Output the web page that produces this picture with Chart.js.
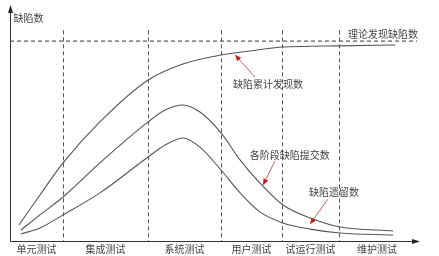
<!DOCTYPE html>
<html>
<head>
<meta charset="utf-8">
<script src="https://cdn.jsdelivr.net/npm/chart.js@4"></script>
<style>
html,body{margin:0;padding:0;background:#fff;}
canvas{display:block;}
</style>
</head>
<body>
<canvas id="c" width="439" height="256"></canvas>
<script>
// ---- data (x: time axis 0-100, y: defect count 0-100) ----
const stageLabels = ['单元测试', '集成测试', '系统测试', '用户测试', '试运行测试', '维护测试'];
const stageBounds = [0, 13.1, 34.1, 52.1, 67.2, 81.2, 100];

const cumX = [2.2, 7.4, 13.1, 22.2, 34.1, 42.7, 52.1, 59.3, 67.4, 81.5, 95.1];
const cumY = [7.0, 20.1, 34.1, 52.0, 70.3, 77.3, 81.2, 83.0, 84.7, 85.2, 85.6];

const subX = [2.7, 7.4, 13.1, 22.2, 34.1, 38.3, 42.7, 46.9, 52.1, 56.8, 61.7, 67.4, 74.1, 81.5, 94.6];
const subY = [4.8, 11.4, 19.2, 34.1, 52.0, 57.2, 59.4, 56.3, 47.2, 35.4, 25.3, 15.7, 10.0, 6.1, 4.4];

const remX = [2.7, 7.4, 13.1, 22.2, 34.1, 38.3, 42.7, 46.9, 52.1, 56.8, 61.7, 67.4, 74.1, 81.5, 94.6];
const remY = [3.1, 5.7, 11.4, 21.0, 36.7, 41.9, 45.0, 41.0, 31.0, 21.0, 12.7, 7.9, 5.2, 3.5, 2.6];

const theoreticalTotal = 87.3;
const yAxisTitle = '缺陷数';
const theoreticalLabel = '理论发现缺陷数';

// annotation callouts: label text, label anchor, arrow tail, arrow tip (data units)
const calloutText = ['缺陷累计发现数', '各阶段缺陷提交数', '缺陷遗留数'];
const calloutLabelX = [63.7, 69.1, 80.0];
const calloutLabelY = [68.6, 37.6, 21.4];
const calloutTailX = [60.5, 65.4, 78.5];
const calloutTailY = [71.6, 34.9, 18.3];
const calloutTipX = [55.6, 62.5, 74.1];
const calloutTipY = [81.2, 24.5, 7.4];

const toPts = (xs, ys) => xs.map((x, i) => ({x, y: ys[i]}));

const FONT = '"Noto Sans CJK SC", "Noto Sans", sans-serif';

const overlay = {
  id: 'overlay',
  beforeDatasetsDraw(chart) {
    const {ctx, chartArea: a, scales: {x, y}} = chart;
    ctx.save();
    // stage boundaries
    ctx.strokeStyle = '#555';
    ctx.lineWidth = 1;
    ctx.setLineDash([4, 3]);
    for (let i = 1; i < stageBounds.length - 1; i++) {
      const px = Math.round(x.getPixelForValue(stageBounds[i])) + 0.5;
      ctx.beginPath();
      ctx.moveTo(px, y.getPixelForValue(92));
      ctx.lineTo(px, y.getPixelForValue(0));
      ctx.stroke();
    }
    ctx.setLineDash([]);
    ctx.restore();
  },
  afterDatasetsDraw(chart) {
    const {ctx, chartArea: a, scales: {x, y}} = chart;
    ctx.save();
    // axes with arrows
    const x0 = Math.round(x.getPixelForValue(0)) + 0.5;
    const y0 = Math.round(y.getPixelForValue(0)) + 0.5;
    ctx.strokeStyle = '#333';
    ctx.fillStyle = '#222';
    ctx.lineWidth = 1;
    ctx.beginPath();
    ctx.moveTo(x0, y0);
    ctx.lineTo(x0, a.top - 4);
    ctx.moveTo(x0, y0);
    ctx.lineTo(a.right + 2, y0);
    ctx.stroke();
    ctx.beginPath();
    ctx.moveTo(x0, a.top - 7);
    ctx.lineTo(x0 - 2.5, a.top + 1);
    ctx.lineTo(x0 + 2.5, a.top + 1);
    ctx.closePath();
    ctx.fill();
    ctx.beginPath();
    ctx.moveTo(a.right + 5, y0);
    ctx.lineTo(a.right - 3, y0 - 2.5);
    ctx.lineTo(a.right - 3, y0 + 2.5);
    ctx.closePath();
    ctx.fill();

    // texts
    ctx.fillStyle = '#444';
    ctx.font = '10px ' + FONT;
    ctx.textBaseline = 'middle';
    ctx.textAlign = 'left';
    ctx.fillText(yAxisTitle, x0 + 3, y.getPixelForValue(97.4));
    ctx.textAlign = 'center';
    ctx.fillText(theoreticalLabel, x.getPixelForValue(92.1), y.getPixelForValue(90.4));

    ctx.font = '10px ' + FONT;
    for (let i = 0; i < stageLabels.length; i++) {
      const cx = x.getPixelForValue((stageBounds[i] + stageBounds[i + 1]) / 2);
      ctx.fillText(stageLabels[i], cx, y0 + 8);
    }

    // callouts
    for (let i = 0; i < calloutText.length; i++) {
      ctx.fillStyle = '#444';
      ctx.font = '10px ' + FONT;
      ctx.fillText(calloutText[i], x.getPixelForValue(calloutLabelX[i]), y.getPixelForValue(calloutLabelY[i]));
      const tx = x.getPixelForValue(calloutTailX[i]), ty = y.getPixelForValue(calloutTailY[i]);
      const hx = x.getPixelForValue(calloutTipX[i]), hy = y.getPixelForValue(calloutTipY[i]);
      ctx.strokeStyle = '#c06060';
      ctx.lineWidth = 1;
      ctx.beginPath();
      ctx.moveTo(tx, ty);
      ctx.lineTo(hx, hy);
      ctx.stroke();
      const ang = Math.atan2(hy - ty, hx - tx);
      const L = 6, W = 2.6;
      ctx.fillStyle = '#c01818';
      ctx.beginPath();
      ctx.moveTo(hx, hy);
      ctx.lineTo(hx - L * Math.cos(ang) + W * Math.sin(ang), hy - L * Math.sin(ang) - W * Math.cos(ang));
      ctx.lineTo(hx - L * Math.cos(ang) - W * Math.sin(ang), hy - L * Math.sin(ang) + W * Math.cos(ang));
      ctx.closePath();
      ctx.fill();
    }
    ctx.restore();
  }
};

const bgPlugin = {
  id: 'bg',
  beforeDraw(chart) {
    const ctx = chart.ctx;
    ctx.save();
    ctx.fillStyle = '#fff';
    ctx.fillRect(0, 0, chart.width, chart.height);
    ctx.restore();
  }
};

const curveStyle = {
  borderColor: '#555',
  borderWidth: 1.1,
  pointRadius: 0,
  fill: false,
  cubicInterpolationMode: 'monotone'
};

new Chart(document.getElementById('c'), {
  type: 'line',
  data: {
    datasets: [
      Object.assign({label: '缺陷累计发现数', data: toPts(cumX, cumY)}, curveStyle),
      Object.assign({label: '各阶段缺陷提交数', data: toPts(subX, subY)}, curveStyle),
      Object.assign({label: '缺陷遗留数', data: toPts(remX, remY)}, curveStyle),
      {label: '理论发现缺陷数', data: [{x: 0, y: theoreticalTotal}, {x: 100.5, y: theoreticalTotal}],
       borderColor: '#333', borderWidth: 1, borderDash: [4, 3], pointRadius: 0, fill: false, tension: 0}
    ]
  },
  options: {
    responsive: false,
    animation: false,
    layout: {padding: {left: 10, right: 24, top: 12, bottom: 15}},
    plugins: {legend: {display: false}, tooltip: {enabled: false}},
    scales: {
      x: {type: 'linear', min: 0, max: 100, display: false},
      y: {type: 'linear', min: 0, max: 100, display: false}
    },
    clip: false
  },
  plugins: [bgPlugin, overlay]
});
</script>
</body>
</html>
